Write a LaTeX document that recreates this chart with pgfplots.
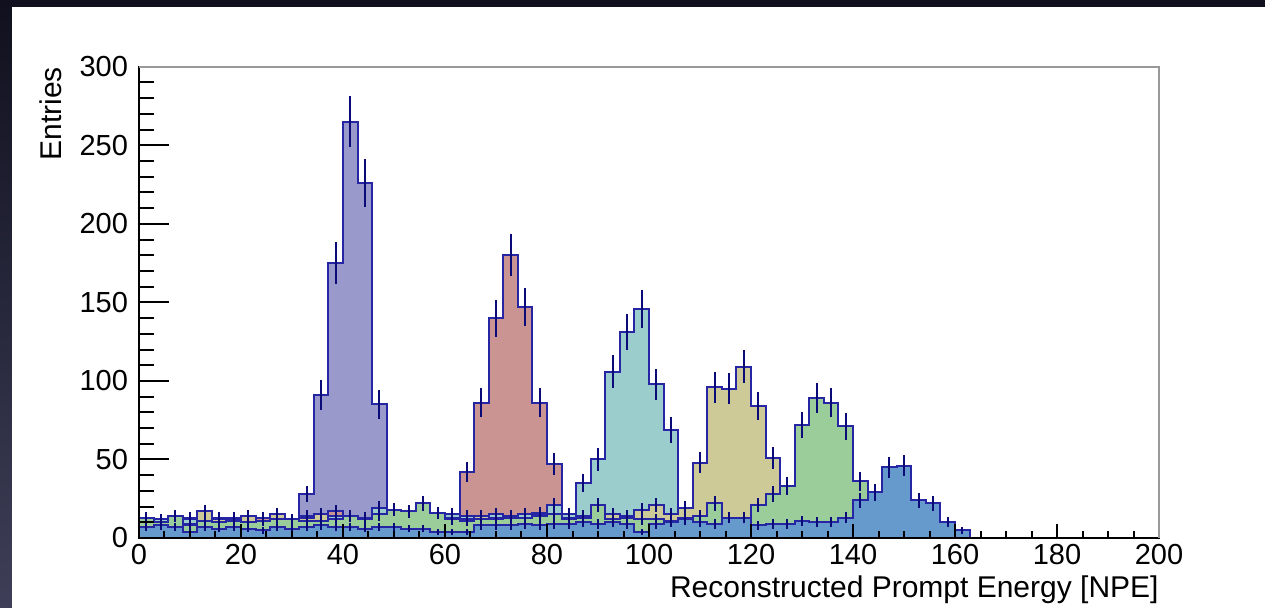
\documentclass[border=0pt]{standalone}
\usepackage{pgfplots}
\usepackage{pgfplotstable}
\pgfplotsset{compat=1.18}
\usepackage{fontspec}
\setmainfont{Liberation Sans}

\definecolor{hP}{RGB}{153,153,204}
\definecolor{hR}{RGB}{201,148,145}
\definecolor{hC}{RGB}{155,205,205}
\definecolor{hY}{RGB}{205,202,152}
\definecolor{hG}{RGB}{155,205,155}
\definecolor{hB}{RGB}{102,153,204}
\definecolor{outl}{RGB}{38,38,165}
\definecolor{errc}{RGB}{10,10,120}
\definecolor{bgtop}{RGB}{16,16,30}
\definecolor{bgbot}{RGB}{62,62,88}

% bin index (bin width 200/70) and entries
\pgfplotstableread{
bin n
0 9
1 10
2 8
3 11
4 10
5 12
6 13
7 11
8 12
9 14
10 12
11 28
12 91
13 175
14 265
15 226
16 85
17 0
}\tabP

\pgfplotstableread{
bin n
0 12
1 10
2 11
3 13
4 12
5 9
6 12
7 11
8 13
9 12
10 10
11 14
12 12
13 17
14 13
15 12
16 14
17 13
18 14
19 13
20 12
21 14
22 42
23 86
24 140
25 180
26 147
27 86
28 47
29 0
}\tabR

\pgfplotstableread{
bin n
0 10
1 12
2 9
3 12
4 11
5 13
6 10
7 12
8 11
9 13
10 12
11 13
12 12
13 14
14 12
15 13
16 19
17 14
18 15
19 14
20 13
21 15
22 14
23 13
24 15
25 14
26 15
27 16
28 21
29 15
30 35
31 50
32 106
33 131
34 146
35 98
36 69
37 0
}\tabC

\pgfplotstableread{
bin n
0 11
1 10
2 12
3 9
4 17
5 12
6 11
7 14
8 10
9 15
10 11
11 13
12 15
13 12
14 13
15 12
16 14
17 12
18 13
19 12
20 11
21 13
22 12
23 14
24 13
25 14
26 13
27 15
28 14
29 13
30 14
31 13
32 15
33 14
34 18
35 21
36 15
37 19
38 48
39 96
40 95
41 109
42 84
43 51
44 0
}\tabY

\pgfplotstableread{
bin n
0 13
1 10
2 14
3 8
4 11
5 10
6 11
7 10
8 11
9 12
10 12
11 11
12 11
13 12
14 14
15 12
16 15
17 18
18 17
19 22
20 16
21 12
22 11
23 12
24 12
25 13
26 13
27 14
28 15
29 12
30 13
31 21
32 12
33 13
34 12
35 12
36 11
37 13
38 14
39 22
40 10
41 11
42 21
43 28
44 33
45 72
46 89
47 86
48 71
49 36
50 21
51 9
52 4
53 0
}\tabG

\pgfplotstableread{
bin n
0 7
1 8
2 7
3 4
4 7
5 6
6 7
7 6
8 5
9 7
10 6
11 7
12 8
13 7
14 7
15 6
16 7
17 7
18 6
19 6
20 4
21 4
22 4
23 8
24 8
25 8
26 9
27 8
28 9
29 9
30 10
31 9
32 10
33 9
34 4
35 9
36 10
37 12
38 10
39 9
40 13
41 13
42 8
43 9
44 9
45 11
46 10
47 10
48 13
49 24
50 29
51 45
52 46
53 24
54 22
55 10
56 5
57 0
}\tabB

\pgfplotsset{
  histo/.style={const plot, mark=none, draw=outl, line width=1pt, fill=#1},
  errs/.style={draw=none, mark=none, forget plot,
    error bars/.cd, y dir=both, y explicit,
    error bar style={draw=errc, line width=1pt, solid}, error mark=none},
}

\begin{document}
\begin{tikzpicture}
% background
\shade[top color=bgtop, bottom color=bgbot] (-69.5pt,-35pt) rectangle (563pt,269pt);
\fill[white] (-63.35pt,-35pt) rectangle (563pt,265.65pt);
\begin{axis}[
  name=ax,
  at={(0,0)}, anchor=south west,
  scale only axis, width=510pt, height=235.6pt,
  xmin=0, xmax=200, ymin=0, ymax=300,
  xtick={0,20,...,200}, ytick={0,50,...,300},
  minor x tick num=3, minor y tick num=4,
  tick align=inside, tick pos=left,
  major tick length=15pt, minor tick length=7.5pt,
  x tick style={/pgfplots/major tick length=7pt, /pgfplots/minor tick length=3.5pt},
  tick style={black, line width=1pt},
  axis line style={black, line width=1pt},
  axis on top,
  /pgf/number format/assume math mode=true,
  tick label style={font=\fontsize{14.5}{17}\selectfont},
  xticklabel style={anchor=base, yshift=-13.5pt, inner sep=0pt},
  yticklabel style={anchor=east, inner sep=0pt, xshift=-5.3pt},
  label style={font=\fontsize{15}{18}\selectfont},
  xlabel={Reconstructed Prompt Energy [NPE]},
  ylabel={Entries},
  xlabel style={at={(axis description cs:1,-0.1253)}, anchor=base east, inner sep=0pt},
  ylabel style={at={(axis description cs:-0.0759,1)}, anchor=base east, inner sep=0pt, rotate=0},
  clip=true,
]
\addplot[histo=hP] table[x expr=\thisrow{bin}*20/7, y=n] {\tabP} \closedcycle;
\addplot[errs] table[x expr=(\thisrow{bin}+0.5)*20/7, y=n, y error expr=sqrt(\thisrow{n})] {\tabP};
\addplot[histo=hR] table[x expr=\thisrow{bin}*20/7, y=n] {\tabR} \closedcycle;
\addplot[errs] table[x expr=(\thisrow{bin}+0.5)*20/7, y=n, y error expr=sqrt(\thisrow{n})] {\tabR};
\addplot[histo=hC] table[x expr=\thisrow{bin}*20/7, y=n] {\tabC} \closedcycle;
\addplot[errs] table[x expr=(\thisrow{bin}+0.5)*20/7, y=n, y error expr=sqrt(\thisrow{n})] {\tabC};
\addplot[histo=hY] table[x expr=\thisrow{bin}*20/7, y=n] {\tabY} \closedcycle;
\addplot[errs] table[x expr=(\thisrow{bin}+0.5)*20/7, y=n, y error expr=sqrt(\thisrow{n})] {\tabY};
\addplot[histo=hG] table[x expr=\thisrow{bin}*20/7, y=n] {\tabG} \closedcycle;
\addplot[errs] table[x expr=(\thisrow{bin}+0.5)*20/7, y=n, y error expr=sqrt(\thisrow{n})] {\tabG};
\addplot[histo=hB] table[x expr=\thisrow{bin}*20/7, y=n] {\tabB} \closedcycle;
\addplot[errs] table[x expr=(\thisrow{bin}+0.5)*20/7, y=n, y error expr=sqrt(\thisrow{n})] {\tabB};
\end{axis}
\draw[gray!80, line width=1pt] (ax.north west) -- (ax.north east) -- (ax.south east);
\end{tikzpicture}
\end{document}
